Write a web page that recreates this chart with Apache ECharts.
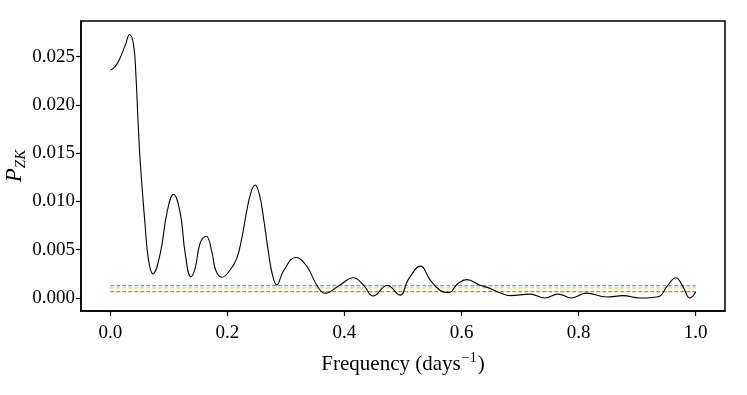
<!DOCTYPE html>
<html>
<head>
<meta charset="utf-8">
<script src="https://cdn.jsdelivr.net/npm/echarts@6/dist/echarts.min.js"></script>
<style>
  html, body { margin: 0; padding: 0; background: #fff; }
  #main { width: 747px; height: 395px; }
</style>
</head>
<body>
<div id="main"></div>
<script>
// periodogram
const freq = [0, 0.0085, 0.017, 0.0256, 0.033, 0.0398, 0.0438, 0.0472, 0.0512, 0.0597,
  0.0654, 0.0728, 0.0853, 0.0967, 0.108, 0.1195, 0.128, 0.1377, 0.145, 0.1536,
  0.1638, 0.1735, 0.180, 0.1906, 0.2048, 0.216, 0.2247, 0.233, 0.2406, 0.2474,
  0.2548, 0.2617, 0.270, 0.277, 0.2844, 0.2958, 0.3168, 0.3355, 0.3527, 0.367,
  0.3925, 0.415, 0.4323, 0.449, 0.473, 0.495, 0.509, 0.530, 0.546, 0.563,
  0.5775, 0.594, 0.6087, 0.631, 0.648, 0.6655, 0.6826, 0.717, 0.742, 0.765,
  0.788, 0.813, 0.848, 0.876, 0.904, 0.936, 0.951, 0.966, 0.978, 0.990, 1.0];
const power = [0.0236, 0.0240, 0.0249, 0.0262, 0.0273, 0.0262, 0.0231, 0.0186, 0.0141, 0.0074,
  0.0039, 0.0025, 0.0046, 0.0088, 0.01075, 0.0088, 0.0046, 0.0022, 0.0031, 0.0057,
  0.0064, 0.0048, 0.0029, 0.00215, 0.0029, 0.0041, 0.0062, 0.0090, 0.0110, 0.0117,
  0.0107, 0.0083, 0.0048, 0.0024, 0.00135, 0.0028, 0.0042, 0.0033, 0.00135, 0.0005,
  0.00135, 0.0021, 0.00135, 0.0002, 0.0013, 0.0003, 0.0019, 0.0033, 0.0019, 0.0008,
  0.00055, 0.0015, 0.0019, 0.00135, 0.0010, 0.00055, 0.00024, 0.0004, 0.0, 0.0004,
  0.0, 0.0005, 0.0001, 0.00024, 0.0, 0.00013, 0.0012, 0.0021, 0.0012, 0.0, 0.00065];

// significance levels (dashed)
const levelValues = [0.00065, 0.00104, 0.00128];
const levelColors = ['rgba(255,40,40,0.75)', 'rgba(220,220,0,0.85)', 'rgba(40,160,40,0.75)'];
const levelRange = [0, 1];

const xTicks = [0, 0.2, 0.4, 0.6, 0.8, 1.0];
const yTicks = [0, 0.005, 0.010, 0.015, 0.020, 0.025];

const serif = 'Liberation Serif';

let myChart = echarts.init(document.getElementById('main'));

let series = [{
  type: 'line',
  data: freq.map((f, i) => [f, power[i]]),
  showSymbol: false,
  smooth: 0.45,
  lineStyle: { color: '#000', width: 1.1 },
  z: 3
}];
levelValues.forEach((v, i) => {
  series.push({
    type: 'line',
    data: levelRange.map(f => [f, v]),
    showSymbol: false,
    lineStyle: { color: levelColors[i], width: 1.2, type: [4, 2] },
    z: 2
  });
});

let option = {
  animation: false,
  grid: {
    left: 81, right: 22, top: 21, bottom: 84,
    outerBoundsMode: 'none',
    containLabel: false,
    show: true, borderColor: '#000', borderWidth: 1.5
  },
  xAxis: {
    type: 'value',
    min: -0.05, max: 1.05,
    splitLine: { show: false },
    axisLine: { onZero: false, lineStyle: { color: '#000', width: 1.5 } },
    axisTick: { customValues: xTicks, length: 5, lineStyle: { color: '#000', width: 1.2 } },
    axisLabel: {
      customValues: xTicks, margin: 13,
      fontFamily: serif, fontSize: 19, color: '#000',
      formatter: v => v.toFixed(1)
    },
    name: '{t|Frequency (days}{s|−1}{t|)}',
    nameLocation: 'middle',
    nameGap: 40,
    nameTextStyle: {
      rich: {
        t: { fontFamily: serif, fontSize: 21, color: '#000', lineHeight: 24, verticalAlign: 'bottom' },
        s: { fontFamily: serif, fontSize: 14, color: '#000', lineHeight: 24, verticalAlign: 'top', padding: [0, 1, 0, 1] }
      }
    }
  },
  yAxis: {
    type: 'value',
    min: -0.00135, max: 0.0287,
    splitLine: { show: false },
    axisLine: { onZero: false, lineStyle: { color: '#000', width: 1.5 } },
    axisTick: { show: true, customValues: yTicks, length: 5, lineStyle: { color: '#000', width: 1.2 } },
    axisLabel: {
      customValues: yTicks, margin: 6,
      fontFamily: serif, fontSize: 19, color: '#000',
      formatter: v => v.toFixed(3)
    },
    name: '{p|P}{s|ZK}',
    nameLocation: 'middle',
    nameRotate: 90,
    nameMoveOverlap: false,
    nameGap: 52,
    nameTextStyle: {
      rich: {
        p: { fontFamily: serif, fontStyle: 'italic', fontSize: 23, color: '#000', lineHeight: 26, verticalAlign: 'top' },
        s: { fontFamily: serif, fontStyle: 'italic', fontSize: 15, color: '#000', lineHeight: 26, verticalAlign: 'bottom' }
      }
    }
  },
  series: series
};

myChart.setOption(option);
</script>
</body>
</html>
